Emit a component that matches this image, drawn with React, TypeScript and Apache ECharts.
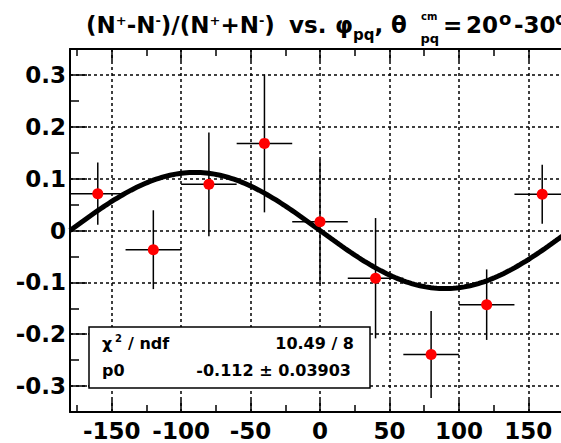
import React, { useEffect, useRef } from 'react';
import * as echarts from 'echarts';

// ---- data ----
const PHI = [-160, -120, -80, -40, 0, 40, 80, 120, 160];
const PHI_ERR = [20, 20, 20, 20, 20, 20, 20, 20, 20];
const ASYM = [0.071, -0.037, 0.089, 0.168, 0.017, -0.092, -0.239, -0.143, 0.070];
const ASYM_ERR = [0.060, 0.076, 0.100, 0.133, 0.120, 0.116, 0.084, 0.068, 0.057];

// fit: p0 * sin(phi)
const FIT_P0 = -0.112;
const FIT_P0_ERR = 0.03903;
const CHI2 = 10.49;
const NDF = 8;

const X_MAJOR = [-150, -100, -50, 0, 50, 100, 150];
const X_MINOR = [-175, -125, -75, -25, 25, 75, 125, 175];
const Y_MAJOR = [-0.3, -0.2, -0.1, 0, 0.1, 0.2, 0.3];
const Y_MINOR = [-0.25, -0.15, -0.05, 0.05, 0.15, 0.25];

const FONT = '"DejaVu Sans"';

let measureCtx: CanvasRenderingContext2D | null = null;
function adv(text: string, size: number, weight: string) {
  if (!measureCtx) measureCtx = document.createElement('canvas').getContext('2d');
  if (!measureCtx) return text.length * size * 0.65;
  measureCtx.font = `${weight} ${size}px ${FONT}`;
  return measureCtx.measureText(text).width;
}

function txt(text: string, x: number, baseline: number, size: number, weight = 'bold', align = 'left') {
  return {
    type: 'text',
    z: 100,
    silent: true,
    x,
    y: baseline - 0.346 * size,
    style: {
      text,
      fill: '#000',
      fontSize: size,
      fontFamily: FONT,
      fontWeight: weight,
      align,
      verticalAlign: 'middle',
      textAlign: align,
      textVerticalAlign: 'middle',
    },
  };
}

type Tok = { t: string; size: number; base: number };

function seq(tokens: Tok[], startX: number) {
  const out: any[] = [];
  let x = startX;
  for (const tk of tokens) {
    out.push(txt(tk.t, x, tk.base, tk.size));
    x += adv(tk.t, tk.size, 'bold');
  }
  return out;
}

function buildTitle() {
  const M = 23, MB = 33;
  const S = 13, SB = 24.5;
  const m = (t: string): Tok => ({ t, size: M, base: MB });
  const s = (t: string): Tok => ({ t, size: S, base: SB });
  return [
    ...seq([m('(N'), s('+'), m('-N'), s('-'), m(')/(N'), s('+'), m('+N'), s('-'), m(')')], 86),
    txt('vs.', 289, MB, M),
    ...seq([m('φ'), { t: 'pq', size: 15, base: 40.5 }, m(',')], 335),
    txt('θ', 391, MB, M),
    txt('cm', 421, 19.5, 10),
    txt('pq', 420.5, 42.5, 13),
    txt('=', 443, MB, M),
    txt('20', 466, MB, M),
    txt('o', 499, 25, 18),
    txt('-30', 514, MB, M),
    txt('o', 555, 25, 18),
  ];
}

function buildStats() {
  const F = 16;
  return [
    {
      type: 'rect',
      z: 99,
      silent: true,
      shape: { x: 89, y: 327, width: 281, height: 61 },
      style: { fill: '#fff', stroke: '#000', lineWidth: 1.5 },
    },
    txt('χ', 102, 349.5, F),
    txt('2', 115, 342, 10),
    txt('/ ndf', 128, 349.5, F),
    txt(`${CHI2} / ${NDF}`, 354, 349.5, F, 'bold', 'right'),
    txt('p0', 102, 376.5, F),
    txt(`${FIT_P0} ± ${FIT_P0_ERR}`, 351, 376.5, F, 'bold', 'right'),
  ];
}

function buildOption() {
  const fitCurve: number[][] = [];
  for (let d = -180; d <= 180; d += 2) {
    fitCurve.push([d, FIT_P0 * Math.sin((d * Math.PI) / 180)]);
  }
  const points = PHI.map((x, i) => [x, ASYM[i], PHI_ERR[i], ASYM_ERR[i]]);

  const tickStyle = { color: '#000', width: 1.5 };
  const gridStyle = { color: '#000', width: 1.5, type: [3, 3] };
  const labelStyle = {
    color: '#000',
    fontFamily: FONT,
    fontWeight: 'bold',
    fontSize: 23,
  };

  const xBase = { type: 'value', min: -180, max: 180, gridIndex: 0 };
  const yBase = { type: 'value', min: -0.35, max: 0.35, gridIndex: 0 };

  return {
    animation: false,
    backgroundColor: '#fff',
    grid: { left: 70, right: 30, top: 49, bottom: 31, containLabel: false, outerBoundsMode: 'none' },
    xAxis: [
      {
        ...xBase,
        position: 'bottom',
        axisLine: { show: true, onZero: false, lineStyle: { color: '#000', width: 2 } },
        axisTick: { show: true, inside: true, length: 12, customValues: X_MAJOR, lineStyle: tickStyle },
        axisLabel: { show: true, margin: 7, customValues: X_MAJOR, ...labelStyle },
        splitLine: { show: true, lineStyle: gridStyle },
      },
      {
        ...xBase,
        position: 'bottom',
        axisLine: { show: false, onZero: false },
        axisTick: { show: true, inside: true, length: 7, customValues: X_MINOR, lineStyle: tickStyle },
        axisLabel: { show: false },
        splitLine: { show: false },
      },
      {
        ...xBase,
        position: 'top',
        axisLine: { show: true, onZero: false, lineStyle: { color: '#000', width: 2 } },
        axisTick: { show: true, inside: true, length: 12, customValues: X_MAJOR, lineStyle: tickStyle },
        axisLabel: { show: false },
        splitLine: { show: false },
      },
      {
        ...xBase,
        position: 'top',
        axisLine: { show: false, onZero: false },
        axisTick: { show: true, inside: true, length: 7, customValues: X_MINOR, lineStyle: tickStyle },
        axisLabel: { show: false },
        splitLine: { show: false },
      },
    ],
    yAxis: [
      {
        ...yBase,
        position: 'left',
        axisLine: { show: true, onZero: false, lineStyle: { color: '#000', width: 2 } },
        axisTick: { show: true, inside: true, length: 17, customValues: Y_MAJOR, lineStyle: tickStyle },
        axisLabel: { show: true, margin: 4, customValues: Y_MAJOR, ...labelStyle },
        splitLine: { show: true, lineStyle: gridStyle },
      },
      {
        ...yBase,
        position: 'left',
        axisLine: { show: false, onZero: false },
        axisTick: { show: true, inside: true, length: 9, customValues: Y_MINOR, lineStyle: tickStyle },
        axisLabel: { show: false },
        splitLine: { show: false },
      },
    ],
    series: [
      {
        type: 'custom',
        xAxisIndex: 0,
        yAxisIndex: 0,
        clip: true,
        z: 2,
        data: points,
        renderItem: (params: any, api: any) => {
          const x = api.value(0);
          const y = api.value(1);
          const ex = api.value(2);
          const ey = api.value(3);
          const l = api.coord([x - ex, y]);
          const r = api.coord([x + ex, y]);
          const t = api.coord([x, y + ey]);
          const b = api.coord([x, y - ey]);
          const style = { stroke: '#000', lineWidth: 1.5 };
          return {
            type: 'group',
            children: [
              { type: 'line', shape: { x1: l[0], y1: l[1], x2: r[0], y2: r[1] }, style },
              { type: 'line', shape: { x1: t[0], y1: t[1], x2: b[0], y2: b[1] }, style },
            ],
          };
        },
      },
      {
        type: 'line',
        xAxisIndex: 0,
        yAxisIndex: 0,
        z: 3,
        data: fitCurve,
        showSymbol: false,
        symbol: 'none',
        smooth: false,
        clip: true,
        lineStyle: { color: '#000', width: 5 },
      },
      {
        type: 'scatter',
        xAxisIndex: 0,
        yAxisIndex: 0,
        z: 4,
        symbol: 'circle',
        symbolSize: 11,
        data: PHI.map((x, i) => [x, ASYM[i]]),
        itemStyle: { color: '#ff0000', opacity: 1 },
      },
    ],
    graphic: [...buildTitle(), ...buildStats()],
  };
}

export default function App() {
  const ref = useRef<HTMLDivElement>(null);
  useEffect(() => {
    const chart = echarts.init(ref.current!, null, { renderer: 'svg' });
    chart.setOption(buildOption() as any);
    return () => chart.dispose();
  }, []);
  return (
    <div
      style={{
        position: 'fixed',
        left: 0,
        top: 0,
        width: 561,
        height: 443,
        overflow: 'hidden',
        background: '#fff',
      }}
    >
      <div ref={ref} style={{ width: 600, height: 443 }} />
    </div>
  );
}
